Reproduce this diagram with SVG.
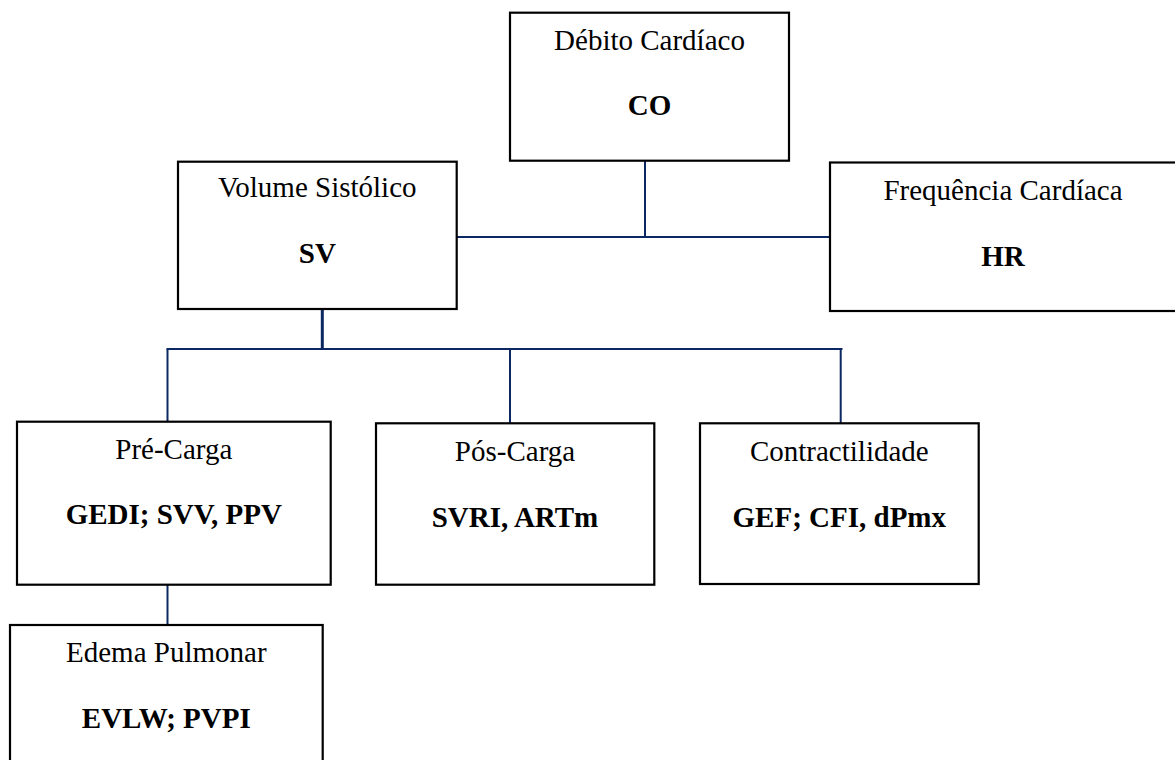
<svg xmlns="http://www.w3.org/2000/svg" width="1175" height="760" viewBox="0 0 1175 760">
<style>
.box{fill:#fff;stroke:#000;stroke-width:2.2}
.t{font-family:"Liberation Serif","Times New Roman",serif;font-size:29px;fill:#000;text-anchor:middle}
.b{font-weight:bold}
.c{stroke:#0B2862;stroke-width:2;fill:none}
</style>
<rect width="1175" height="760" fill="#fff"/>
<g id="connectors">
<line class="c" x1="645" y1="161" x2="645" y2="237"/>
<line class="c" x1="457" y1="237" x2="830" y2="237"/>
<line class="c" x1="322.3" y1="309" x2="322.3" y2="349" style="stroke-width:3"/>
<line class="c" x1="166.5" y1="349" x2="842.5" y2="349"/>
<line class="c" x1="167.5" y1="349" x2="167.5" y2="422"/>
<line class="c" x1="510" y1="349" x2="510" y2="423"/>
<line class="c" x1="840.7" y1="349" x2="840.7" y2="423"/>
<line class="c" x1="167.5" y1="585" x2="167.5" y2="625"/>
</g>
<g id="co">
<rect class="box" x="510" y="12.7" width="279" height="148"/>
<text class="t" x="649.5" y="50">Débito Cardíaco</text>
<text class="t b" x="649.5" y="115">CO</text>
</g>
<g id="sv">
<rect class="box" x="178" y="161.7" width="278.7" height="147.3"/>
<text class="t" x="317.3" y="196.7">Volume Sistólico</text>
<text class="t b" x="317.3" y="263">SV</text>
</g>
<g id="hr">
<rect class="box" x="830" y="162.5" width="360" height="148.5"/>
<text class="t" x="1003" y="200">Frequência Cardíaca</text>
<text class="t b" x="1003" y="266">HR</text>
</g>
<g id="precarga">
<rect class="box" x="17" y="421.7" width="313.7" height="163"/>
<text class="t" x="173.8" y="459">Pré-Carga</text>
<text class="t b" x="173.8" y="524.3">GEDI; SVV, PPV</text>
</g>
<g id="poscarga">
<rect class="box" x="376" y="423.3" width="278.3" height="161.4"/>
<text class="t" x="515" y="461">Pós-Carga</text>
<text class="t b" x="515" y="527">SVRI, ARTm</text>
</g>
<g id="contractilidade">
<rect class="box" x="700" y="423.3" width="278.7" height="160.7"/>
<text class="t" x="839.3" y="460.7">Contractilidade</text>
<text class="t b" x="839.3" y="526.7">GEF; CFI, dPmx</text>
</g>
<g id="edema">
<rect class="box" x="10" y="625" width="312.7" height="150"/>
<text class="t" x="166.3" y="661.7">Edema Pulmonar</text>
<text class="t b" x="166.3" y="727.7">EVLW; PVPI</text>
</g>
</svg>
